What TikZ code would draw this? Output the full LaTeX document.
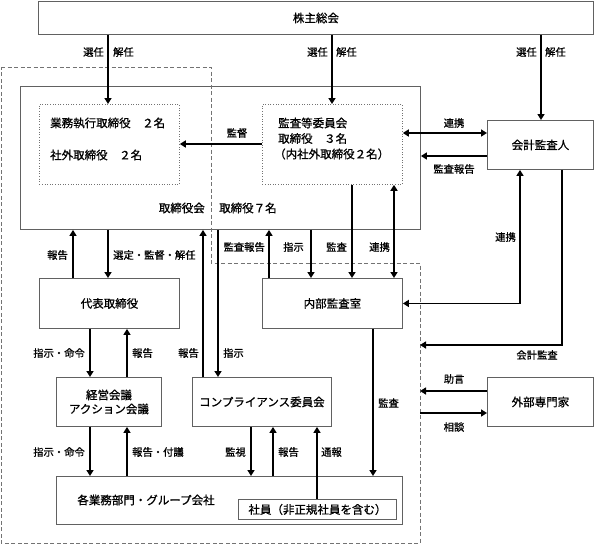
\documentclass[tikz,border=0pt]{standalone}
\usepackage{fontspec}
\setmainfont{Noto Sans CJK JP}[FakeBold=0.9]
\usetikzlibrary{arrows.meta}
\begin{document}
\begin{tikzpicture}[x=1pt,y=-1pt,
  box/.style={draw=black!62, line width=0.9pt, inner sep=0pt, anchor=north west, font=\fontsize{11.5}{14}\selectfont},
  dotbox/.style={draw=black!55, line width=0.8pt, dash pattern=on 1pt off 1.6pt, inner sep=0pt, anchor=north west},
  lbl/.style={font=\fontsize{10.3}{12}\selectfont, inner sep=0pt},
  txt/.style={font=\fontsize{11.5}{14}\selectfont, inner sep=0pt},
  arr/.style={line width=1.8pt, -{Triangle[width=7pt,length=6pt]}},
  darr/.style={line width=1.8pt, {Triangle[width=7pt,length=6pt]}-{Triangle[width=7pt,length=6pt]}},
  dashline/.style={draw=black!55, line width=0.9pt, dash pattern=on 4pt off 2.5pt},
]
\useasboundingbox (0,0) rectangle (594,544);

% boxes
\node[box, minimum width=555pt, minimum height=33pt] (kabu) at (38,1) {株主総会};
\node[box, minimum width=400pt, minimum height=143pt] (torikai) at (20,86) {};
\node[dotbox, minimum width=140pt, minimum height=80pt] (gyomu) at (39,104) {};
\node[dotbox, minimum width=140pt, minimum height=80pt] (kansa) at (262,104) {};
\node[box, minimum width=106pt, minimum height=49pt] (kaikei) at (487,120) {会計監査人};
\node[box, minimum width=140pt, minimum height=50pt] (daihyo) at (39,278) {代表取締役};
\node[box, minimum width=140pt, minimum height=50pt] (naibu) at (262,278) {内部監査室};
\node[box, minimum width=105pt, minimum height=49pt, align=center] (keiei) at (56,377) {経営会議\\アクション会議};
\node[box, minimum width=139pt, minimum height=49pt] (comp) at (192,377) {コンプライアンス委員会};
\node[box, minimum width=106pt, minimum height=49pt] (gaibu) at (487,377) {外部専門家};
\node[box, minimum width=346pt, minimum height=48pt] (kakugyo) at (56,476) {};
\node[box, minimum width=158pt, minimum height=20pt] (shain) at (238,499) {社員（非正規社員を含む）};

% texts inside boxes
\node[txt, anchor=west] (t1) at (50,123) {業務執行取締役　２名};
\node[txt, anchor=west] (t2) at (50,155) {社外取締役　２名};
\node[txt, anchor=west] (t3) at (278,123) {監査等委員会};
\node[txt, anchor=west] (t4) at (278,138.5) {取締役　３名};
\node[txt, anchor=west] (t5) at (274,154) {（内社外取締役２名）};
\node[txt, anchor=east] (t6) at (205,208) {取締役会};
\node[txt, anchor=west] (t7) at (219,208) {取締役７名};
\node[txt] (t8) at (146,500) {各業務部門・グループ会社};

% dashed region
\draw[dashline] (1,67) -- (211,67) -- (211,263) -- (420,263) -- (420,543) -- (1,543) -- cycle;
\coordinate (d1) at (420,345);
\coordinate (d2) at (420,391);
\coordinate (d3) at (420,413);

% arrows from shareholders
\draw[arr] (kabu.south -| 108,0) -- (gyomu.north -| 108,0);
\draw[arr] (kabu.south -| 332,0) -- (kansa.north -| 332,0);
\draw[arr] (kabu.south -| 541,0) -- (kaikei.north -| 541,0);
\node[lbl, anchor=east] (l1) at (104,52) {選任};
\node[lbl, anchor=west] (l2) at (113,52) {解任};
\node[lbl, anchor=east] (l3) at (328,52) {選任};
\node[lbl, anchor=west] (l4) at (336,52) {解任};
\node[lbl, anchor=east] (l5) at (537,52) {選任};
\node[lbl, anchor=west] (l6) at (545,52) {解任};

% inside board
\draw[arr] (kansa.west |- 0,144) -- (gyomu.east |- 0,144);
\node[lbl] (l7) at (237,133) {監督};
\draw[darr] (kansa.east |- 0,133) -- (kaikei.west |- 0,133);
\node[lbl] (l8) at (454,123) {連携};
\draw[arr] (kaikei.west |- 0,156) -- (torikai.east |- 0,156);
\node[lbl] (l9) at (454,169) {監査報告};

% below board
\draw[arr] (daihyo.north -| 73,0) -- (torikai.south -| 73,0);
\node[lbl, anchor=east] (l10) at (68,255) {報告};
\draw[arr] (torikai.south -| 108,0) -- (daihyo.north -| 108,0);
\node[lbl, anchor=west] (l11) at (113,255) {選定・監督・解任};
\draw[arr] (comp.north -| 203,0) -- (torikai.south -| 203,0);
\node[lbl, anchor=east] (l12) at (199,353) {報告};
\draw[arr] (torikai.south -| 218,0) -- (comp.north -| 218,0);
\node[lbl, anchor=west] (l13) at (223,353) {指示};
\draw[arr] (naibu.north -| 269,0) -- (torikai.south -| 269,0);
\node[lbl, anchor=east] (l14) at (265,247) {監査報告};
\draw[arr] (torikai.south -| 311,0) -- (naibu.north -| 311,0);
\node[lbl, anchor=east] (l15) at (304,247) {指示};
\draw[arr] (kansa.south -| 352,0) -- (naibu.north -| 352,0);
\node[lbl, anchor=east] (l16) at (347,247) {監査};
\draw[darr] (kansa.south -| 394,0) -- (naibu.north -| 394,0);
\node[lbl, anchor=east] (l17) at (390,247) {連携};

% auditor links
\draw[darr] (kaikei.south -| 520,0) |- (naibu.east);
\node[lbl, anchor=east] (l18) at (516,237) {連携};
\draw[arr] (kaikei.south -| 562,0) |- (d1);
\node[lbl] (l19) at (537,355) {会計監査};
\draw[arr] (gaibu.west |- 0,391) -- (d2);
\node[lbl] (l20) at (454,379) {助言};
\draw[arr] (d3) -- (gaibu.west |- 0,413);
\node[lbl] (l21) at (454,427) {相談};

% internal audit down
\draw[arr] (naibu.south -| 373,0) -- (kakugyo.north -| 373,0);
\node[lbl, anchor=west] (l22) at (378,403) {監査};

% representative / meetings
\draw[arr] (daihyo.south -| 90,0) -- (keiei.north -| 90,0);
\node[lbl, anchor=east] (l23) at (85,353) {指示・命令};
\draw[arr] (keiei.north -| 127,0) -- (daihyo.south -| 127,0);
\node[lbl, anchor=west] (l24) at (132,353) {報告};
\draw[arr] (keiei.south -| 90,0) -- (kakugyo.north -| 90,0);
\node[lbl, anchor=east] (l25) at (85,452) {指示・命令};
\draw[arr] (kakugyo.north -| 127,0) -- (keiei.south -| 127,0);
\node[lbl, anchor=west] (l26) at (132,452) {報告・付議};

% compliance
\draw[arr] (comp.south -| 251,0) -- (kakugyo.north -| 251,0);
\node[lbl, anchor=east] (l27) at (246,452) {監視};
\draw[arr] (kakugyo.north -| 273,0) -- (comp.south -| 273,0);
\node[lbl, anchor=west] (l28) at (278,452) {報告};
\draw[arr] (shain.north -| 317,0) -- (comp.south -| 317,0);
\node[lbl, anchor=west] (l29) at (321,452) {通報};
\end{tikzpicture}
\end{document}
